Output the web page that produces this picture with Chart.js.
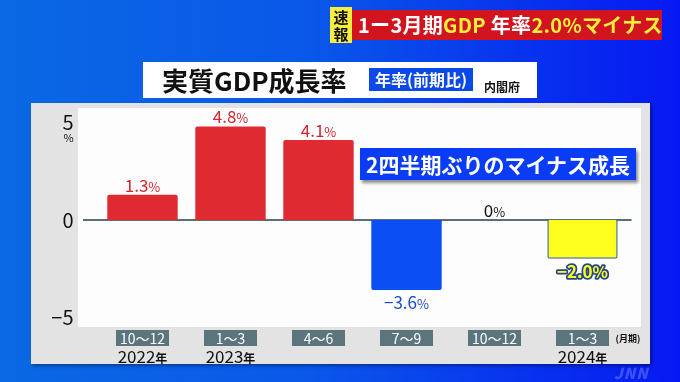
<!DOCTYPE html>
<html><head><meta charset="utf-8">
<script src="https://cdn.jsdelivr.net/npm/chart.js@4"></script>
<style>
html,body{margin:0;padding:0;}
body{width:680px;height:382px;overflow:hidden;position:relative;background:linear-gradient(90deg,#0a68e3 0%,#0a58e9 45%,#0618f2 100%);font-family:"Noto Sans CJK JP","Noto Sans",sans-serif;}
#c{position:absolute;left:0;top:0;}
.abs{position:absolute;white-space:nowrap;}
</style></head><body>
<canvas id="c" width="680" height="382"></canvas>

<div class="abs" style="left:330px;top:7px;width:22px;height:36px;background:#f6ef3c;color:#111;font-weight:700;font-size:15px;line-height:17px;text-align:center;padding-top:1px;box-sizing:border-box;">速<br>報</div>
<div class="abs" style="left:352px;top:10px;width:310px;height:30px;background:#d1141d;font-weight:700;font-size:20px;line-height:30px;padding-left:6px;box-sizing:border-box;color:#fff;letter-spacing:0.3px;"><span>1ー3月期</span><span style="color:#f8f03a">GDP</span><span> 年率</span><span style="color:#f8f03a">2.0%マイナス</span></div>

<div class="abs" style="left:143px;top:62px;width:394px;height:36px;background:#fff;"></div>
<div class="abs" style="left:162px;top:62px;height:36px;font-size:26px;font-weight:700;line-height:36px;color:#111;">実質GDP成長率</div>
<div class="abs" style="left:369px;top:68px;width:104px;height:23px;background:#0b4ae6;color:#fff;font-size:16px;font-weight:700;line-height:23px;text-align:center;">年率(前期比)</div>
<div class="abs" style="left:484px;top:79px;font-size:12px;font-weight:700;line-height:16px;color:#111;">内閣府</div>

<div class="abs" style="left:360px;top:148px;width:276px;height:32px;background:#0a3cf5;box-shadow:2px 3px 3px rgba(0,0,0,0.45);color:#fff;font-size:21px;font-weight:700;line-height:32px;text-align:center;">2四半期ぶりのマイナス成長</div>

<div class="abs" style="left:614px;top:362px;font-size:15px;font-weight:900;font-style:italic;color:rgba(255,255,255,0.22);letter-spacing:1px;">JNN</div>

<script>
// ---- data ----
const categories = ["10～12", "1～3", "4～6", "7～9", "10～12", "1～3"];
const yearLabels = ["2022年", "2023年", "", "", "", "2024年"];
const growth = [1.3, 4.8, 4.1, -3.6, 0, -2.0];
const yTicks = [-5, 0, 5];

// ---- styles ----
const barFill = ["#e02a31", "#e02a31", "#e02a31", "#0a4ef4", "#e02a31", "#ffff1e"];
const barEdge = ["#e02a31", "#e02a31", "#e02a31", "#0a4ef4", "#e02a31", "#4d6b86"];
const labelColor = ["#d3262e", "#d3262e", "#d3262e", "#1b4bc4", "#111111", "#ffff1e"];

const FONT = '"Noto Sans CJK JP","Noto Sans",sans-serif';
const fmt = v => (v < 0 ? "−" : "") + (v === 0 ? "0" : Math.abs(v).toFixed(1));

const deco = {
  id: 'deco',
  beforeDraw(chart) {
    const {ctx, chartArea: ca} = chart;
    const xs = chart.scales.x;
    ctx.save();
    // grey panel
    ctx.shadowColor = 'rgba(0,0,0,0.35)';
    ctx.shadowBlur = 3; ctx.shadowOffsetX = 2; ctx.shadowOffsetY = 2;
    ctx.fillStyle = '#e3e3e3';
    ctx.fillRect(ca.left - 67.5, ca.top - 5, 619, 261);
    ctx.shadowColor = 'transparent';
    // white plot area
    ctx.fillStyle = '#fdfdfd';
    ctx.fillRect(ca.left - 20.5, ca.top, 563, ca.bottom - ca.top);
    // category boxes + labels
    categories.forEach((c, i) => {
      const cx = xs.getPixelForValue(i);
      ctx.fillStyle = '#5c757d';
      ctx.fillRect(cx - 26.5, 330, 53, 16);
      ctx.fillStyle = '#ffffff';
      ctx.font = '14px ' + FONT;
      ctx.textAlign = 'center'; ctx.textBaseline = 'middle';
      ctx.fillText(c, cx, 338.5);
      if (yearLabels[i]) {
        const num = yearLabels[i].replace('年', '');
        ctx.font = '17px ' + FONT;
        const w1 = ctx.measureText(num).width;
        ctx.font = 'bold 12px ' + FONT;
        const w2 = ctx.measureText('年').width;
        let x0 = cx - (w1 + w2) / 2;
        ctx.textAlign = 'left'; ctx.textBaseline = 'alphabetic';
        ctx.fillStyle = '#111';
        ctx.font = '17px ' + FONT;
        ctx.fillText(num, x0, 363);
        ctx.font = 'bold 12px ' + FONT;
        ctx.fillText('年', x0 + w1, 363);
      }
    });
    ctx.fillStyle = '#111';
    ctx.font = 'bold 9px ' + FONT;
    ctx.textAlign = 'center'; ctx.textBaseline = 'middle';
    ctx.fillText('(月期)', 628, 339);
    // % under top tick
    const ys = chart.scales.y;
    ctx.font = '11px ' + FONT;
    ctx.fillText('%', 68.5, ys.getPixelForValue(5) + 15);
    ctx.restore();
  },
  beforeDatasetsDraw(chart) {
    const {ctx, chartArea: ca} = chart;
    const y0 = chart.scales.y.getPixelForValue(0);
    ctx.save();
    ctx.strokeStyle = '#5a6e76';
    ctx.lineWidth = 2;
    ctx.beginPath();
    ctx.moveTo(ca.left - 15.5, y0);
    ctx.lineTo(ca.right + 5, y0);
    ctx.stroke();
    ctx.restore();
  },
  afterDatasetsDraw(chart) {
    const {ctx} = chart;
    const meta = chart.getDatasetMeta(0);
    ctx.save();
    meta.data.forEach((bar, i) => {
      const v = growth[i];
      const num = fmt(v);
      const last = i === growth.length - 1;
      const bigF = (last ? 'bold 17px ' : '17px ') + FONT;
      const smallF = (last ? 'bold 16px ' : '13px ') + FONT;
      ctx.font = bigF; const w1 = ctx.measureText(num).width;
      ctx.font = smallF; const w2 = ctx.measureText('%').width;
      const cx = bar.x;
      const base = v >= 0 ? bar.y - 3 : bar.y + 19;
      let x0 = cx - (w1 + w2) / 2;
      ctx.textAlign = 'left'; ctx.textBaseline = 'alphabetic';
      if (last) {
        ctx.lineJoin = 'round';
        ctx.strokeStyle = '#25468e';
        ctx.lineWidth = 3.5;
        ctx.font = bigF; ctx.strokeText(num, x0, base);
        ctx.font = smallF; ctx.strokeText('%', x0 + w1, base);
      }
      ctx.fillStyle = labelColor[i];
      ctx.font = bigF; ctx.fillText(num, x0, base);
      ctx.font = smallF; ctx.fillText('%', x0 + w1, base);
    });
    ctx.restore();
  }
};

new Chart(document.getElementById('c'), {
  type: 'bar',
  data: {
    labels: categories,
    datasets: [{
      data: growth,
      backgroundColor: barFill,
      borderColor: barEdge,
      borderWidth: ctx => ctx.dataIndex === growth.length - 1 ? 1.5 : 0,
      borderRadius: 2,
      borderSkipped: 'start',
      barPercentage: 0.8,
      categoryPercentage: 1.0
    }]
  },
  options: {
    responsive: false,
    animation: false,
    events: [],
    layout: { padding: { left: 38.5, right: 53.5, top: 108, bottom: 55 } },
    plugins: { legend: { display: false }, tooltip: { enabled: false } },
    scales: {
      x: { display: false, offset: true },
      y: {
        min: -5.5, max: 5.75,
        afterFit: s => { s.width = 60; },
        afterBuildTicks: s => { s.ticks = yTicks.map(v => ({ value: v })); },
        grid: { display: false, drawTicks: false },
        border: { display: false },
        ticks: {
          padding: 25,
          color: '#111',
          font: { family: FONT, size: 20 },
          callback: v => (v < 0 ? '−' : '') + Math.abs(v)
        }
      }
    }
  },
  plugins: [deco]
});
</script>
</body></html>
